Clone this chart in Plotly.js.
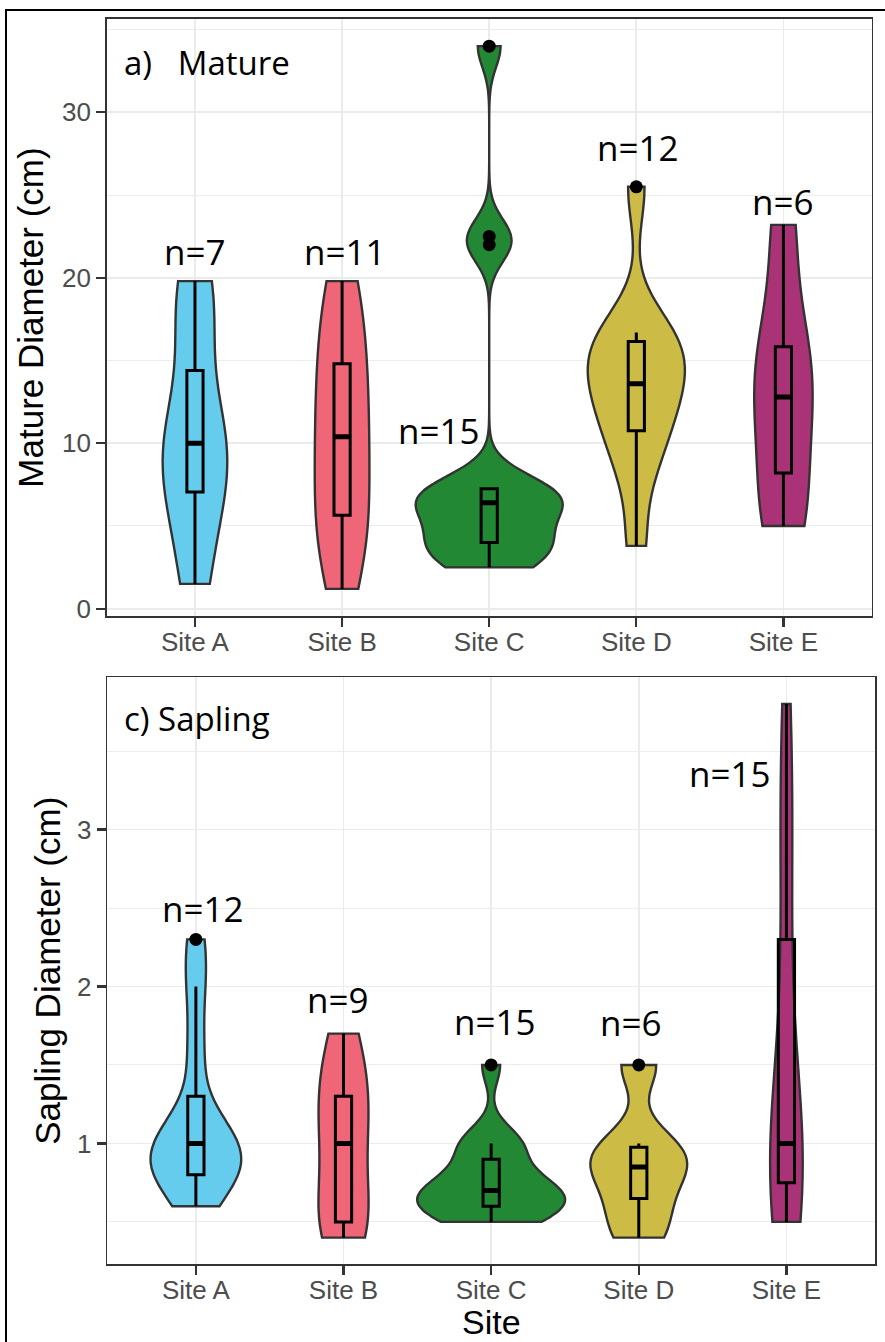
<!DOCTYPE html>
<html><head><meta charset="utf-8">
<script src="https://cdn.plot.ly/plotly-3.0.1.min.js"></script>
<style>
html,body{margin:0;padding:0;background:#fff;overflow:hidden;}
#wrap{position:relative;width:885px;height:1342px;}
#chart{width:885px;height:1342px;}
#frame{position:absolute;left:5px;top:9px;width:2000px;height:2000px;border-left:2px solid #000;border-top:2px solid #000;pointer-events:none;}
</style></head><body>
<div id="wrap"><div id="chart"></div><div id="frame"></div></div>
<script>
const sites = ['Site A','Site B','Site C','Site D','Site E'];
const siteColors = ['#66CCEE','#EE6677','#228833','#CCBB44','#AA3377'];

// Mature diameter (cm) per site
const matureA = [1.5, 6.0, 8.1, 10.0, 11.5, 17.3, 19.8];
const matureB = [1.2, 3.5, 5.0, 6.3, 8.5, 10.4, 12.0, 13.8, 15.8, 18.0, 19.8];
const matureC = [2.5, 3.0, 3.5, 3.9, 4.1, 5.0, 6.0, 6.4, 6.5, 7.0, 7.2, 7.3, 22.0, 22.5, 34.0];
const matureD = [3.8, 8.0, 10.0, 11.0, 12.5, 13.2, 14.0, 15.0, 16.0, 16.6, 16.7, 25.5];
const matureE = [5.0, 7.0, 11.8, 13.8, 16.5, 23.2];

// Sapling diameter (cm) per site
const saplingA = [0.6, 0.8, 0.8, 0.8, 0.9, 1.0, 1.0, 1.0, 1.2, 1.6, 2.0, 2.3];
const saplingB = [0.4, 0.5, 0.5, 0.8, 1.0, 1.2, 1.3, 1.5, 1.7];
const saplingC = [0.5, 0.5, 0.6, 0.6, 0.6, 0.6, 0.7, 0.7, 0.7, 0.8, 0.8, 1.0, 1.0, 1.0, 1.5];
const saplingD = [0.4, 0.6, 0.8, 0.9, 1.0, 1.5];
const saplingE = [0.5, 0.5, 0.6, 0.7, 0.8, 0.9, 1.0, 1.0, 1.2, 1.5, 2.0, 2.6, 3.0, 3.4, 3.8];

const matureData = [matureA, matureB, matureC, matureD, matureE];
const saplingData = [saplingA, saplingB, saplingC, saplingD, saplingE];

// R quantile type 7 and bw.nrd0, as used by ggplot2
function q7(s, p){ const h=(s.length-1)*p; const lo=Math.floor(h); const hi=Math.ceil(h); return s[lo]+(h-lo)*(s[hi]-s[lo]); }
function nrd0(a){
  const s=[...a].sort((x,y)=>x-y); const n=s.length;
  const m=s.reduce((u,v)=>u+v,0)/n;
  const sd=Math.sqrt(s.reduce((u,v)=>u+(v-m)*(v-m),0)/(n-1));
  let lo=Math.min(sd,(q7(s,0.75)-q7(s,0.25))/1.34);
  if(!(lo>0)) lo = sd || Math.abs(s[0]) || 1;
  return 0.9*lo*Math.pow(n,-0.2);
}
function boxStats(a){
  const s=[...a].sort((x,y)=>x-y);
  const q1=q7(s,0.25), med=q7(s,0.5), q3=q7(s,0.75), iqr=q3-q1;
  const inside=s.filter(v=>v>=q1-1.5*iqr && v<=q3+1.5*iqr);
  return {q1, med, q3, lf:inside[0], uf:inside[inside.length-1],
          out:s.filter(v=>v<q1-1.5*iqr || v>q3+1.5*iqr)};
}

const violins=[], boxes=[], medians=[], outliers=[];
function addPanel(data, xa, ya, group){
  data.forEach((arr,i)=>{
    violins.push({
      type:'violin', x:arr.map(()=>sites[i]), y:arr, xaxis:xa, yaxis:ya,
      name:sites[i], scalegroup:group, scalemode:'width',
      spanmode:'hard', bandwidth:nrd0(arr),
      fillcolor:siteColors[i], line:{color:'#333333', width:2.4},
      points:false, box:{visible:false}, meanline:{visible:false},
      hoverinfo:'skip', showlegend:false
    });
    const st=boxStats(arr);
    boxes.push({
      type:'box', x:[sites[i]], q1:[st.q1], median:[st.med], q3:[st.q3],
      lowerfence:[st.lf], upperfence:[st.uf], xaxis:xa, yaxis:ya,
      width:0.11, boxpoints:false, whiskerwidth:0,
      fillcolor:'rgba(0,0,0,0)', line:{color:'#000000', width:3},
      hoverinfo:'skip', showlegend:false
    });
    medians.push({
      type:'box', x:[sites[i]], q1:[st.med], median:[st.med], q3:[st.med],
      lowerfence:[st.med], upperfence:[st.med], xaxis:xa, yaxis:ya,
      width:0.11, boxpoints:false, whiskerwidth:0,
      fillcolor:'rgba(0,0,0,0)', line:{color:'#000000', width:5},
      hoverinfo:'skip', showlegend:false
    });
    if(st.out.length){
      outliers.push({
        type:'scatter', mode:'markers', x:st.out.map(()=>sites[i]), y:st.out,
        xaxis:xa, yaxis:ya, marker:{color:'#000000', size:13, line:{width:0}},
        hoverinfo:'skip', showlegend:false
      });
    }
  });
}
addPanel(matureData,'x','y','mature');
addPanel(saplingData,'x2','y2','sapling');
const traces=[...violins, ...boxes, ...medians, ...outliers];

const tickFont={family:'Liberation Sans, Arial, sans-serif', size:26, color:'#4D4D4D'};
const titleFont={family:'Liberation Sans, Arial, sans-serif', size:35, color:'#000000'};
const common={
  showline:true, mirror:true, linecolor:'#333333', linewidth:1.6,
  ticks:'outside', ticklen:9, tickwidth:2.2, tickcolor:'#333333',
  showgrid:true, gridcolor:'#EBEBEB', gridwidth:1.8,
  tickfont:tickFont, zeroline:false, fixedrange:true, automargin:false
};
const xCommon=Object.assign({}, common, {type:'category', categoryorder:'array', categoryarray:sites, range:[-0.6,4.6], ticklabelstandoff:-7});

const annFont={family:'Open Sans, Noto Sans, sans-serif', size:35, color:'#000000'};
const labFont={family:'Open Sans, Noto Sans, sans-serif', size:33, color:'#000000'};
function nLabel(arr, xa, ya, i, y, xshift){
  return {xref:xa, yref:ya, x:sites[i], y:y, xshift:xshift, text:'n='+arr.length, showarrow:false, font:annFont, xanchor:'center', yanchor:'middle'};
}
const annotations=[
  nLabel(matureA,'x','y',0,21.6,0),
  nLabel(matureB,'x','y',1,21.6,3),
  nLabel(matureC,'x','y',2,10.8,-50),
  nLabel(matureD,'x','y',3,27.9,2),
  nLabel(matureE,'x','y',4,24.6,0),
  nLabel(saplingA,'x2','y2',0,2.50,7),
  nLabel(saplingB,'x2','y2',1,1.92,-6),
  nLabel(saplingC,'x2','y2',2,1.78,4),
  nLabel(saplingD,'x2','y2',3,1.77,-8),
  nLabel(saplingE,'x2','y2',4,3.36,-56),
  {xref:'paper', yref:'paper', x:122/885, y:1-62/1342, xanchor:'left', yanchor:'middle', text:'a)&nbsp;&nbsp;&nbsp;Mature', showarrow:false, font:labFont},
  {xref:'paper', yref:'paper', x:122/885, y:1-718/1342, xanchor:'left', yanchor:'middle', text:'c) Sapling', showarrow:false, font:labFont},
  // x-axis title of the lower panel
  {xref:'x2', yref:'paper', x:2, y:0, xanchor:'center', yanchor:'bottom', borderpad:0, text:'Site', showarrow:false,
   font:{family:'Liberation Sans, Arial, sans-serif', size:34, color:'#000000'}}
];

const layout={
  width:885, height:1342, margin:{l:0,r:0,t:0,b:0},
  paper_bgcolor:'#ffffff', plot_bgcolor:'#ffffff',
  violinmode:'overlay', violingap:0, violingroupgap:0, boxmode:'overlay', showlegend:false,
  xaxis:Object.assign({}, xCommon, {domain:[106.7/885, 871.7/885], anchor:'y'}),
  xaxis2:Object.assign({}, xCommon, {domain:[107.3/885, 875/885], anchor:'y2'}),
  yaxis:Object.assign({}, common, {domain:[1-616/1342, 1-19/1342], anchor:'x', range:[-0.44,35.64], tick0:0, dtick:10,
    minor:{tick0:0, dtick:5, showgrid:true, gridcolor:'#EBEBEB', gridwidth:0.9},
    title:{text:'Mature Diameter (cm)', font:titleFont, standoff:8}}),
  yaxis2:Object.assign({}, common, {domain:[1-1264.3/1342, 1-677.3/1342], anchor:'x2', range:[0.23,3.97], tick0:0, dtick:1,
    minor:{tick0:0, dtick:0.5, showgrid:true, gridcolor:'#EBEBEB', gridwidth:0.9},
    title:{text:'Sapling Diameter (cm)', font:titleFont, standoff:6}}),
  annotations:annotations
};
Plotly.newPlot('chart', traces, layout, {staticPlot:true, displayModeBar:false});
</script>
</body></html>
